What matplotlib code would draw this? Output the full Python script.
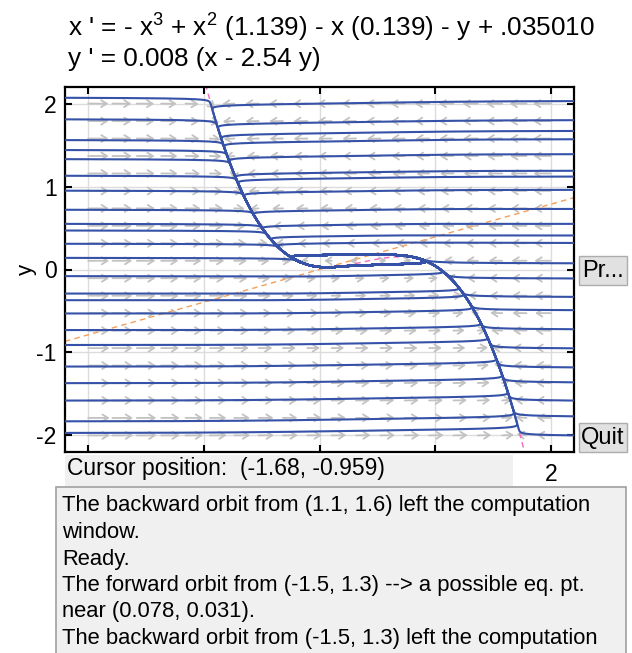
import numpy as np
import matplotlib
matplotlib.use("Agg")
import matplotlib.pyplot as plt
from matplotlib.patches import Rectangle

plt.rcParams['font.family'] = ['Liberation Sans', 'DejaVu Sans']
plt.rcParams['mathtext.fontset'] = 'custom'
plt.rcParams['mathtext.rm'] = 'Liberation Sans'
plt.rcParams['mathtext.it'] = 'Liberation Sans:italic'

# ---- system: x' = -x^3 + a2 x^2 - a1 x - y + a0 ,  y' = eps (x - b y)
cubic_coef = [-1.0, 1.139, -0.139, 0.035010]   # x^3, x^2, x, const
eps = 0.008
b = 2.54

# window and direction-field grid
xlim = [-2.2, 2.2]
ylim = [-2.2, 2.2]
grid_x = np.linspace(-2, 2, 20)
grid_y = np.linspace(-2, 2, 20)
ticks = [-2, -1, 0, 1, 2]
xtick_labels = ['', '', '', '', '2']
ytick_labels = ['-2', '-1', '0', '1', '2']

# orbit start heights on the left edge and on the right edge
left_start_y = [2.07, 1.81, 1.56, 1.44, 1.33, 1.13, 0.95, 0.72, 0.55, 0.47,
                0.31, 0.14, -0.08, -0.29, -0.37, -0.53, -0.73, -0.91, -1.17,
                -1.37, -1.58, -1.83, -1.97]
right_start_y = [2.03, 1.80, 1.67, 1.57, 1.39, 1.19, 1.12, 0.96, 0.73, 0.55,
                 0.41, 0.32, 0.075, -0.108, -0.33, -0.49, -0.72, -0.95, -1.18,
                 -1.36, -1.58, -1.77, -2.0]

title1 = "x ' = - x$^3$ + x$^2$ (1.139) - x (0.139) - y + .035010"
title2 = "y ' = 0.008 (x - 2.54 y)"
cursor_text = "Cursor position:  (-1.68, -0.959)"
messages = ["The backward orbit from (1.1, 1.6) left the computation",
            "window.",
            "Ready.",
            "The forward orbit from (-1.5, 1.3) --> a possible eq. pt.",
            "near (0.078, 0.031).",
            "The backward orbit from (-1.5, 1.3) left the computation"]


def fx(x, y):
    return np.polyval(cubic_coef, x) - y


def fy(x, y):
    return eps * (x - b * y)


def integrate(x0, y0, dt=0.02, t_end=900.0):
    x = np.array(x0, float)
    y = np.array(y0, float)
    n = int(t_end / dt)
    X = np.empty((n + 1, x.size))
    Y = np.empty((n + 1, x.size))
    X[0], Y[0] = x, y
    alive = np.ones(x.size, bool)
    for i in range(n):
        k1x, k1y = fx(x, y), fy(x, y)
        k2x, k2y = fx(x + dt / 2 * k1x, y + dt / 2 * k1y), fy(x + dt / 2 * k1x, y + dt / 2 * k1y)
        k3x, k3y = fx(x + dt / 2 * k2x, y + dt / 2 * k2y), fy(x + dt / 2 * k2x, y + dt / 2 * k2y)
        k4x, k4y = fx(x + dt * k3x, y + dt * k3y), fy(x + dt * k3x, y + dt * k3y)
        x = x + dt / 6 * (k1x + 2 * k2x + 2 * k3x + k4x)
        y = y + dt / 6 * (k1y + 2 * k2y + 2 * k3y + k4y)
        out = (x < xlim[0] - 0.05) | (x > xlim[1] + 0.05) | (y < ylim[0] - 0.05) | (y > ylim[1] + 0.05)
        alive &= ~out
        X[i + 1] = np.where(alive, x, np.nan)
        Y[i + 1] = np.where(alive, y, np.nan)
    return X, Y


fig = plt.figure(figsize=(6.32, 6.53), dpi=100)
W, H = 632.0, 653.0
ax = fig.add_axes([65 / W, 1 - 452 / H, (574 - 65) / W, (452 - 87) / H])
ax.set_xlim(xlim)
ax.set_ylim(ylim)

# grid
for t in ticks:
    ax.axvline(t, color='#dcdcdc', lw=1.0, zorder=0)
    ax.axhline(t, color='#dcdcdc', lw=1.0, zorder=0)

# direction field (tail at grid point, compressed length scaling)
px_per_x = (574 - 65) / (xlim[1] - xlim[0])
px_per_y = (452 - 87) / (ylim[1] - ylim[0])
GX, GY = np.meshgrid(grid_x, grid_y)
U = fx(GX, GY)
V = fy(GX, GY)
Upx = U * px_per_x
Vpx = V * px_per_y
M = np.hypot(U, V)
Lpx = np.clip(21.0 * (M / 13.0) ** 0.2, 5.0, 23.0)
ang = np.arctan2(Vpx, Upx)
for gx, gy, L, a in zip(GX.ravel(), GY.ravel(), Lpx.ravel(), ang.ravel()):
    hx = gx + L * np.cos(a) / px_per_x
    hy = gy + L * np.sin(a) / px_per_y
    ax.annotate('', xy=(hx, hy), xytext=(gx, gy), xycoords='data',
                arrowprops=dict(arrowstyle='->,head_length=0.4,head_width=0.25',
                                color='#c2c2c2', lw=1.3, shrinkA=0, shrinkB=0),
                zorder=1)

# nullclines
xs = np.linspace(xlim[0], xlim[1], 800)
ax.plot(xs, np.polyval(cubic_coef, xs), color='#f06cc0', lw=1.0, ls=(0, (4, 3)), zorder=2)
ax.plot(xs, xs / b, color='#f5a05a', lw=1.0, ls=(0, (4, 3)), zorder=2)

# orbits
x0 = [xlim[0]] * len(left_start_y) + [xlim[1]] * len(right_start_y)
y0 = left_start_y + right_start_y
X, Y = integrate(x0, y0)
for j in range(X.shape[1]):
    ax.plot(X[:, j], Y[:, j], color='#3552a8', lw=1.5, zorder=3, solid_capstyle='butt')

ax.set_xticks(ticks)
ax.set_yticks(ticks)
ax.set_xticklabels(xtick_labels)
ax.set_yticklabels(ytick_labels)
ax.tick_params(direction='in', length=5, width=1.5, labelsize=16.5, pad=6,
               top=True, right=True, colors='black')
ax.tick_params(axis='x', pad=8)
for s in ax.spines.values():
    s.set_linewidth(1.6)
ax.set_ylabel('y', fontsize=16)
ax.yaxis.set_label_coords(-28 / (574 - 65), 0.5)

# equations
fig.text(68 / W, 1 - 37 / H, title1, fontsize=18.8, ha='left', va='baseline')
fig.text(68 / W, 1 - 66 / H, title2, fontsize=18.8, ha='left', va='baseline')

# cursor panel
fig.patches.append(Rectangle((65 / W, 1 - 486 / H), 448 / W, 31 / H, transform=fig.transFigure,
                             facecolor='#f0f0f0', edgecolor='none', zorder=5))
fig.text(67 / W, 1 - 469 / H, cursor_text, fontsize=16.5, ha='left', va='center', zorder=6)

# message box
fig.patches.append(Rectangle((56 / W, -0.01), (626 - 56) / W, (1 - 487 / H) + 0.01,
                             transform=fig.transFigure, facecolor='#f0f0f0',
                             edgecolor='#a0a0a0', lw=1.2, zorder=5))
for i, m in enumerate(messages):
    fig.text(62 / W, 1 - (506 + 26.5 * i) / H, m, fontsize=15.8, ha='left', va='center', zorder=6)

# buttons
for label, ytop in [('Pr...', 256), ('Quit', 423)]:
    fig.patches.append(Rectangle((579 / W, 1 - (ytop + 29) / H), 48 / W, 29 / H,
                                 transform=fig.transFigure, facecolor='#e1e1e1',
                                 edgecolor='#adadad', lw=1.0, zorder=5))
    fig.text(603 / W, 1 - (ytop + 15) / H, label, fontsize=17, ha='center', va='center', zorder=6)

fig.savefig('out.png', dpi=100)
